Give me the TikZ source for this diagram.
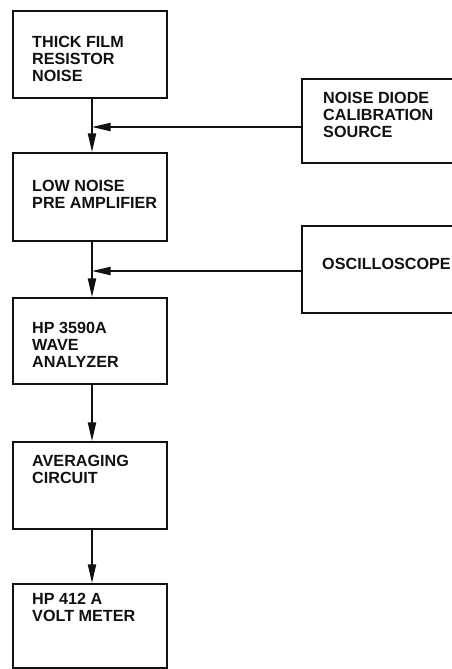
\documentclass[tikz,border=0pt]{standalone}
\usepackage{fontspec}
\setmainfont{Liberation Sans}
\usetikzlibrary{arrows.meta, positioning}
\definecolor{ink}{HTML}{111111}
\tikzset{
  block/.style={
    draw=ink, line width=2pt, anchor=north west, inner sep=0pt,
    minimum width=4.62cm
  },
  block-text/.style={
    anchor=north west, inner sep=0pt, align=left, text=ink,
    font=\fontsize{13.8}{14.5}\selectfont\bfseries
  },
  signal-edge/.style={-{Triangle[length=16pt, width=7pt]}, line width=1.3pt, draw=ink}
}

\begin{document}
\begin{tikzpicture}[x=0.03cm, y=-0.03cm]
  \useasboundingbox (0,0) rectangle (452,669);
  \clip (0,0) rectangle (452,669);

  % main chain, left column
  \node[block, minimum height=2.61cm] (tfr)  at (12, 10)  {};
  \node[block, minimum height=2.64cm] (lna)  at (12, 152) {};
  \node[block, minimum height=2.58cm] (wave) at (12, 297) {};
  \node[block, minimum height=2.61cm] (avg)  at (12, 441) {};
  \node[block, minimum height=2.52cm] (volt) at (12, 583) {};

  \node[block-text] (tfr-text)  at (32, 36)  {THICK FILM\\RESISTOR\\NOISE};
  \node[block-text] (lna-text)  at (32, 180) {LOW NOISE\\PRE AMPLIFIER};
  \node[block-text] (wave-text) at (32, 322) {HP 3590A\\WAVE\\ANALYZER};
  \node[block-text] (avg-text)  at (32, 455) {AVERAGING\\CIRCUIT};
  \node[block-text] (volt-text) at (32, 593) {HP 412 A\\VOLT METER};

  % side inputs, cut off at the right edge
  \node[block, minimum width=4.8cm, minimum height=2.52cm] (diode) at (301, 78)  {};
  \node[block, minimum width=4.8cm, minimum height=2.61cm] (scope) at (301, 225) {};

  \node[block-text] (diode-text) at (323, 92)  {NOISE DIODE\\CALIBRATION\\SOURCE};
  \node[block-text] (scope-text) at (322, 258) {OSCILLOSCOPE};

  % the signal line runs a little right of the box centres
  \coordinate (tap1) at (92, 127);
  \coordinate (tap2) at (92, 271);

  \draw[signal-edge] (tfr.south -| tap1)  -- (lna.north -| tap1);
  \draw[signal-edge] (lna.south -| tap1)  -- (wave.north -| tap1);
  \draw[signal-edge] (wave.south -| tap1) -- (avg.north -| tap1);
  \draw[signal-edge] (avg.south -| tap1)  -- (volt.north -| tap1);

  \draw[signal-edge] (diode.west |- tap1) -- (tap1);
  \draw[signal-edge] (scope.west |- tap2) -- (tap2);
\end{tikzpicture}
\end{document}
